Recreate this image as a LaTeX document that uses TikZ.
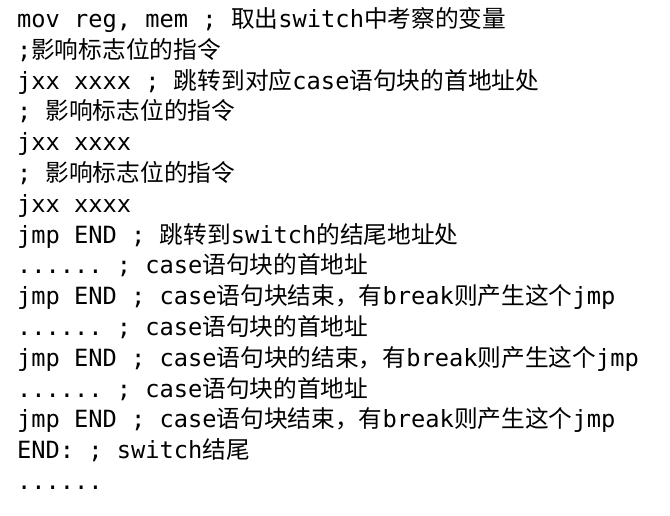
\documentclass[tikz,border=0pt]{standalone}
\usepackage{fontspec}
\setmonofont{DejaVu Sans Mono}
\newfontfamily\cjkf{Noto Sans CJK SC}
\newcommand{\zh}[1]{{\cjkf #1}}
\begin{document}
\begin{tikzpicture}[x=1pt,y=-1pt,
  codeline/.style={anchor=base west,inner sep=0pt,outer sep=0pt,text=black,
    font=\ttfamily\fontsize{23.7}{28}\selectfont}]
\useasboundingbox (0,0) rectangle (670,516);
\fill[white] (0,0) rectangle (670,516);
\def\lx{17}
\node[codeline] (l1)  at (\lx,27.5)  {mov reg, mem ; \zh{取出}switch\zh{中考察的变量}};
\node[codeline] (l2)  at (\lx,58.3)  {;\zh{影响标志位的指令}};
\node[codeline] (l3)  at (\lx,89.1)  {jxx xxxx ; \zh{跳转到对应}case\zh{语句块的首地址处}};
\node[codeline] (l4)  at (\lx,119.9) {; \zh{影响标志位的指令}};
\node[codeline] (l5)  at (\lx,150.7) {jxx xxxx};
\node[codeline] (l6)  at (\lx,181.5) {; \zh{影响标志位的指令}};
\node[codeline] (l7)  at (\lx,212.3) {jxx xxxx};
\node[codeline] (l8)  at (\lx,243.1) {jmp END ; \zh{跳转到}switch\zh{的结尾地址处}};
\node[codeline] (l9)  at (\lx,273.9) {...... ; case\zh{语句块的首地址}};
\node[codeline] (l10) at (\lx,304.7) {jmp END ; case\zh{语句块结束，有}break\zh{则产生这个}jmp};
\node[codeline] (l11) at (\lx,335.5) {...... ; case\zh{语句块的首地址}};
\node[codeline] (l12) at (\lx,366.3) {jmp END ; case\zh{语句块的结束，有}break\zh{则产生这个}jmp};
\node[codeline] (l13) at (\lx,397.1) {...... ; case\zh{语句块的首地址}};
\node[codeline] (l14) at (\lx,427.9) {jmp END ; case\zh{语句块结束，有}break\zh{则产生这个}jmp};
\node[codeline] (l15) at (\lx,458.7) {END: ; switch\zh{结尾}};
\node[codeline] (l16) at (\lx,489.5) {......};
\end{tikzpicture}
\end{document}
